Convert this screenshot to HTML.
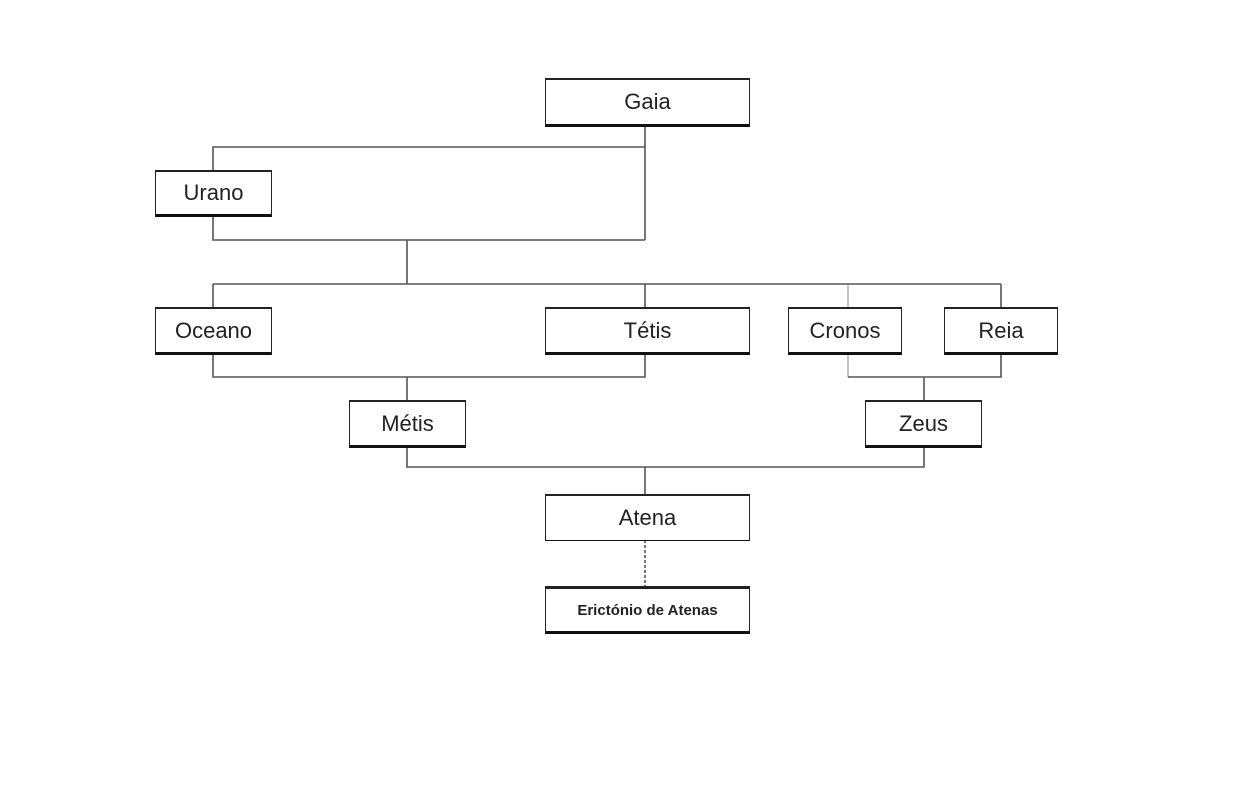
<!DOCTYPE html>
<html><head><meta charset="utf-8"><style>
html,body{margin:0;padding:0;background:#fff;width:1254px;height:798px;overflow:hidden;position:relative;font-family:"Liberation Sans",Arial,sans-serif}
.b{position:absolute;box-sizing:border-box;border:1.5px solid #222;border-bottom:3px solid #111;border-top:2px solid #222;background:#fff;display:flex;align-items:center;justify-content:center;font-size:22px;color:#222}
svg{position:absolute;left:0;top:0}
</style></head><body>
<svg width="1254" height="798">
<g stroke="#555" stroke-width="1.6" fill="none">
<polyline points="213,170 213,147 645,147"/>
<line x1="645" y1="126" x2="645" y2="240"/>
<polyline points="213,216 213,240 645,240"/>
<line x1="407" y1="240" x2="407" y2="284"/>
<line x1="213" y1="284" x2="1001" y2="284"/>
<line x1="213" y1="284" x2="213" y2="307"/>
<line x1="645" y1="284" x2="645" y2="307"/>
<line x1="848" y1="284" x2="848" y2="377" stroke="#888" stroke-width="1"/>
<line x1="1001" y1="284" x2="1001" y2="307"/>
<polyline points="213,354 213,377 645,377 645,354"/>
<line x1="407" y1="377" x2="407" y2="400"/>
<polyline points="848,377 1001,377 1001,354"/>
<line x1="924" y1="377" x2="924" y2="400"/>
<polyline points="407,447 407,467 924,467 924,447"/>
<line x1="645" y1="467" x2="645" y2="494"/>
<line x1="645" y1="540" x2="645" y2="586" stroke-dasharray="3,2"/>
</g>
</svg>
<div class="b" style="left:545px;top:78px;width:205px;height:49px">Gaia</div>
<div class="b" style="left:155px;top:170px;width:117px;height:47px">Urano</div>
<div class="b" style="left:155px;top:307px;width:117px;height:48px">Oceano</div>
<div class="b" style="left:545px;top:307px;width:205px;height:48px">Tétis</div>
<div class="b" style="left:788px;top:307px;width:114px;height:48px">Cronos</div>
<div class="b" style="left:944px;top:307px;width:114px;height:48px">Reia</div>
<div class="b" style="left:349px;top:400px;width:117px;height:48px">Métis</div>
<div class="b" style="left:865px;top:400px;width:117px;height:48px">Zeus</div>
<div class="b" style="left:545px;top:494px;width:205px;height:47px;border-bottom-width:1.5px">Atena</div>
<div class="b" style="left:545px;top:586px;width:205px;height:48px;font-size:15px;font-weight:bold;border-top-width:3px;border-bottom-width:3.5px">Erictónio de Atenas</div>
</body></html>
